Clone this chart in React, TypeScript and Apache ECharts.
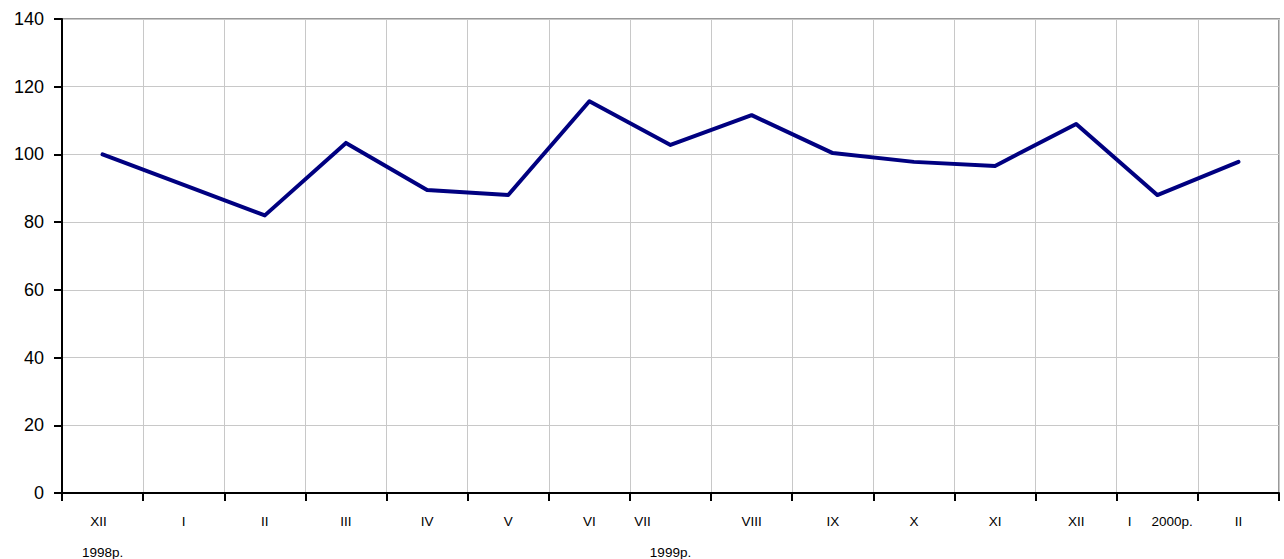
import React, { useEffect, useRef } from "react";
import * as echarts from "echarts";

const months = ["XII", "I", "II", "III", "IV", "V", "VI", "VII", "VIII", "IX", "X", "XI", "XII", "I", "II"];
const years = ["1998р.", "", "", "", "", "", "", "1999р.", "", "", "", "", "", "", ""];
const yearInline = ["", "", "", "", "", "", "", "", "", "", "", "", "", "2000р.", ""];
const values = [100, 91, 82, 103.4, 89.5, 88, 115.7, 102.8, 111.6, 100.4, 97.8, 96.6, 109, 88, 97.8];
const yTicks = { min: 0, max: 140, interval: 20 };

export default function App() {
  const ref = useRef<HTMLDivElement>(null);
  useEffect(() => {
    if (!ref.current) return;
    const chart = echarts.init(ref.current, null, { renderer: "svg" });
    const font = "'Liberation Sans', Arial, sans-serif";
    const fs = 13.5;
    chart.setOption({
      animation: false,
      backgroundColor: "#ffffff",
      grid: {
        left: 62,
        right: 5,
        top: 19,
        bottom: 66,
        show: true,
        borderColor: "#999999",
        borderWidth: 2,
        containLabel: false,
      },
      xAxis: [
        {
          type: "category",
          data: months,
          boundaryGap: true,
          position: "bottom",
          axisLine: { show: true, lineStyle: { color: "#000", width: 2 } },
          axisTick: { show: true, length: 8, lineStyle: { color: "#000", width: 2 }, interval: 0 },
          splitLine: { show: true, interval: 0, lineStyle: { color: "#c8c8c8", width: 1 } },
          axisLabel: {
            interval: 0,
            margin: 21,
            fontFamily: font,
            fontSize: fs,
            color: "#000",
            formatter: (v: string, i: number) => {
              if (i === 0) return "{s|" + v + "}";
              if (i === 7) return "{v|" + v + "}";
              if (yearInline[i]) return "{w|" + v + "}{n|" + yearInline[i] + "}";
              return "{n|" + v + "}";
            },
            rich: {
              s: { fontFamily: font, fontSize: fs, color: "#000", padding: [0, 8, 0, 0] },
              v: { fontFamily: font, fontSize: fs, color: "#000", padding: [0, 56, 0, 0] },
              w: { fontFamily: font, fontSize: fs, color: "#000", padding: [0, 20, 0, 6] },
              n: { fontFamily: font, fontSize: fs, color: "#000" },
            },
          },
        },
        {
          type: "category",
          data: years,
          boundaryGap: true,
          position: "bottom",
          axisLine: { show: false },
          axisTick: { show: false },
          splitLine: { show: false },
          axisLabel: {
            interval: 0,
            margin: 52,
            fontFamily: font,
            fontSize: fs,
            color: "#000",
          },
        },
      ],
      yAxis: {
        type: "value",
        min: yTicks.min,
        max: yTicks.max,
        interval: yTicks.interval,
        axisLine: { show: true, lineStyle: { color: "#000", width: 2 } },
        axisTick: { show: true, length: 8, lineStyle: { color: "#000", width: 2 } },
        splitLine: { show: true, lineStyle: { color: "#c8c8c8", width: 1 } },
        axisLabel: { margin: 18, fontFamily: font, fontSize: 18, color: "#000" },
      },
      series: [
        {
          type: "line",
          xAxisIndex: 0,
          data: values,
          showSymbol: false,
          symbol: "none",
          lineStyle: { color: "#000080", width: 4, cap: "round", join: "round" },
          z: 5,
        },
      ],
    });
    return () => chart.dispose();
  }, []);
  return (
    <div
      ref={ref}
      style={{ position: "fixed", left: 0, top: 0, width: 1284, height: 559, background: "#fff" }}
    />
  );
}
